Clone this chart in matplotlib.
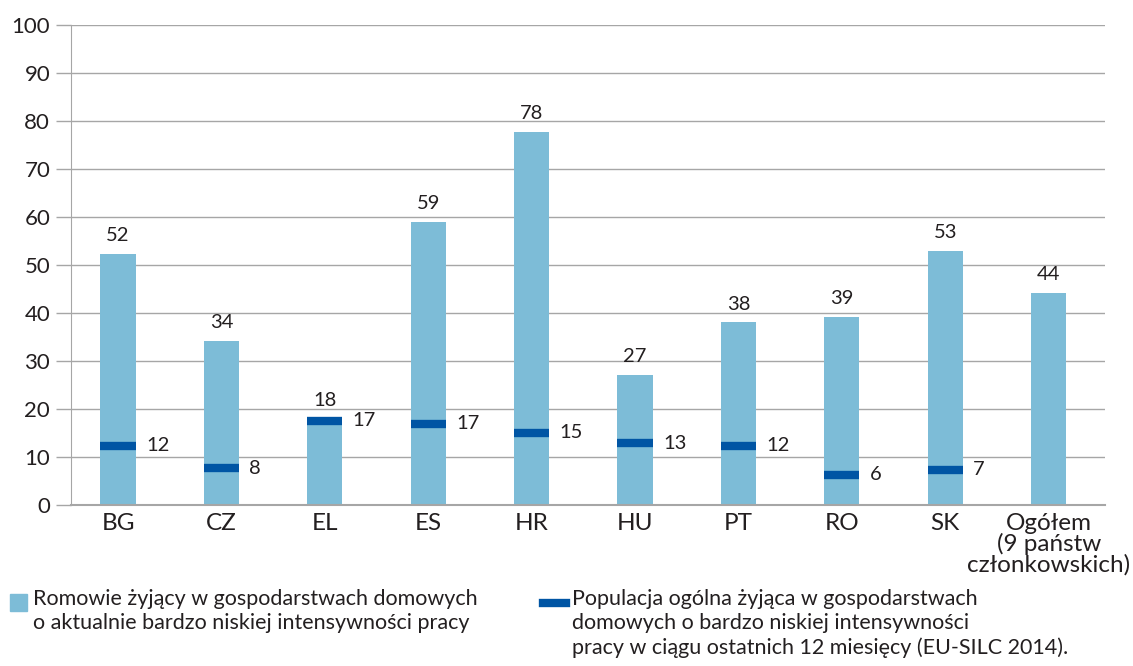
import matplotlib
matplotlib.use("Agg")
import matplotlib.pyplot as plt
from matplotlib.patches import Rectangle
from matplotlib.lines import Line2D

categories = ["BG", "CZ", "EL", "ES", "HR", "HU", "PT", "RO", "SK", "Ogółem\n(9 państw\nczłonkowskich)"]
roma = [52.3, 34.2, 18.0, 59.0, 77.7, 27.1, 38.1, 39.2, 52.9, 44.2]
roma_labels = ["52", "34", "18", "59", "78", "27", "38", "39", "53", "44"]
general = [12.3, 7.7, 17.5, 16.9, 15.0, 12.9, 12.3, 6.3, 7.3, None]
general_labels = ["12", "8", "17", "17", "15", "13", "12", "6", "7", ""]
yticks = [0, 10, 20, 30, 40, 50, 60, 70, 80, 90, 100]

legend1 = "Romowie żyjący w gospodarstwach domowych\no aktualnie bardzo niskiej intensywności pracy"
legend2 = "Populacja ogólna żyjąca w gospodarstwach\ndomowych o bardzo niskiej intensywności\npracy w ciągu ostatnich 12 miesięcy (EU-SILC 2014)."

plt.rcParams['font.family'] = ['Lato', 'DejaVu Sans']
TXT = "#231f20"
BAR = "#7dbcd7"
MARK = "#0055a4"
GRID = "#a6a6a6"

fig = plt.figure(figsize=(11.33, 6.66), dpi=100)
ax = fig.add_axes([71/1133, 1-505/666, (1105-71)/1133, 480/666])

BW = 0.34
x = list(range(len(categories)))
ax.bar(x, roma, width=BW, color=BAR, zorder=2)
for xi, v, lab in zip(x, roma, roma_labels):
    ax.text(xi, v + 2.0, lab, ha="center", va="bottom", fontsize=14.5, color=TXT)

for xi, v, lab in zip(x, general, general_labels):
    if v is None:
        continue
    ax.plot([xi - BW/2, xi + BW/2], [v, v], color=MARK, lw=6, solid_capstyle="butt", zorder=3)
    ax.text(xi + 0.27, v, lab, ha="left", va="center", fontsize=14.5, color=TXT)

ax.set_xlim(-0.455, 9.545)
ax.set_ylim(0, 100)
ax.set_yticks(yticks)
ax.set_xticks(x)
ax.set_xticklabels(categories, fontsize=17.5, color=TXT, linespacing=0.93)
ax.tick_params(axis="y", labelsize=16, colors=TXT, length=11, width=1, color=GRID, pad=4)
ax.tick_params(axis="x", length=0, pad=6)
ax.grid(axis="y", color=GRID, lw=1, zorder=0)
for s in ["top", "right"]:
    ax.spines[s].set_visible(False)
ax.spines["left"].set_color(GRID)
ax.spines["bottom"].set_color(GRID)
ax.spines["bottom"].set_linewidth(1.5)

# legend
fig.patches.append(Rectangle((10/1133, 1-611/666), 17/1133, 17/666, transform=fig.transFigure,
                             color=BAR, figure=fig))
fig.text(33/1133, 1-589/666, legend1, ha="left", va="top", fontsize=15.5, color=TXT, linespacing=1.25)
fig.lines.append(Line2D([543/1133, 566/1133], [1-603/666, 1-603/666], transform=fig.transFigure,
                        color=MARK, lw=6, figure=fig))
fig.text(572/1133, 1-589/666, legend2, ha="left", va="top", fontsize=15.5, color=TXT, linespacing=1.25)

fig.savefig("out.png", dpi=100)
